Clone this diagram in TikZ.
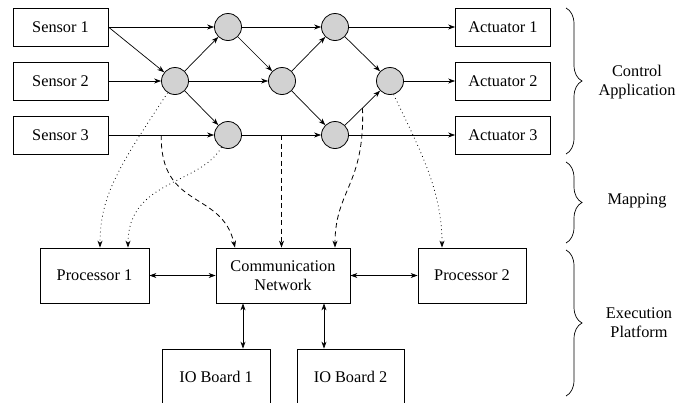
\documentclass[tikz,border=0pt]{standalone}
\usepackage{fontspec}
\setmainfont{Liberation Serif}
\usetikzlibrary{arrows.meta,decorations.pathreplacing}
\begin{document}
\begin{tikzpicture}[x=1pt,y=-1pt,
  font=\fontsize{16.3}{19}\selectfont,
  box/.style={draw, line width=0.8pt, minimum width=95pt, minimum height=38pt, inner sep=0pt},
  platbox/.style={draw, line width=0.8pt, minimum height=55pt, inner sep=0pt},
  task/.style={circle, draw, line width=0.8pt, fill=gray!35, minimum size=27pt, inner sep=0pt},
  tip/.tip={Stealth[length=7pt,width=5pt]},
  arr/.style={-tip, line width=0.7pt},
  bidir/.style={tip-tip, line width=0.7pt},
  mapdot/.style={-tip, line width=0.8pt, dash pattern=on 0.8pt off 3.2pt},
  mapdash/.style={-tip, line width=0.8pt, dash pattern=on 5pt off 3.5pt},
  bracestyle/.style={decorate, decoration={brace, amplitude=16pt}, line width=0.7pt}
]
\useasboundingbox (0,0) rectangle (700,402);

% sensors and actuators
\node[box] (S1) at (60.5,27) {Sensor 1};
\node[box] (S2) at (60.5,81) {Sensor 2};
\node[box] (S3) at (60.5,135) {Sensor 3};
\node[box] (Ac1) at (503,27) {Actuator 1};
\node[box] (Ac2) at (503,81) {Actuator 2};
\node[box] (Ac3) at (503,135) {Actuator 3};

% tasks
\node[task] (A) at (175,81) {};
\node[task] (B) at (228,27) {};
\node[task] (C) at (228,135) {};
\node[task] (D) at (282,81) {};
\node[task] (E) at (335,27) {};
\node[task] (F) at (335,135) {};
\node[task] (G) at (390,81) {};

% platform
\node[platbox, minimum width=109pt] (P1) at (94.5,275.5) {Processor 1};
\node[platbox, minimum width=134pt, align=center] (CN) at (283,275.5) {Communication\\Network};
\node[platbox, minimum width=108pt] (P2) at (472,275.5) {Processor 2};
\node[draw, line width=0.8pt, minimum width=108pt, minimum height=62pt, inner sep=0pt] (IO1) at (216,380) {};
\node[draw, line width=0.8pt, minimum width=107pt, minimum height=62pt, inner sep=0pt] (IO2) at (350.5,380) {};
\node (IO1t) at (216,377) {IO Board 1};
\node (IO2t) at (350.5,377) {IO Board 2};

% application edges
\draw[arr] (S1.east) -- (B);
\draw[arr] (S1.east) -- (A);
\draw[arr] (S2) -- (A);
\draw[arr] (S3) -- coordinate[pos=0.5] (m1) (C);
\draw[arr] (A) -- (B);
\draw[arr] (A) -- (D);
\draw[arr] (A) -- (C);
\draw[arr] (B) -- (E);
\draw[arr] (B) -- (D);
\draw[arr] (D) -- (E);
\draw[arr] (D) -- (F);
\draw[arr] (C) -- coordinate[pos=0.5] (m2) (F);
\draw[arr] (E) -- (Ac1);
\draw[arr] (E) -- (G);
\draw[arr] (F) -- coordinate[pos=0.5] (m3) (G);
\draw[arr] (F) -- (Ac3);
\draw[arr] (G) -- (Ac2);

% platform connections
\draw[bidir] (P1) -- (CN);
\draw[bidir] (CN) -- (P2);
\draw[bidir] ([xshift=-40pt]CN.south) -- ([xshift=-40pt]CN.south |- IO1.north);
\draw[bidir] ([xshift=41pt]CN.south) -- ([xshift=41pt]CN.south |- IO2.north);

% mapping: tasks to processors
\draw[mapdot] (A.238) .. controls (120,165) and (100,195) .. ([xshift=5.5pt]P1.north);
\draw[mapdot] (C.242) .. controls (200,185) and (128,180) .. ([xshift=33.5pt]P1.north);
\draw[mapdot] (G.285) .. controls (420,150) and (442,190) .. ([xshift=-30pt]P2.north);

% mapping: messages to network
\draw[mapdash] (m1) .. controls (160,210) and (222,190) .. ([xshift=-48pt]CN.north);
\draw[mapdash] (m2) -- (m2 |- CN.north);
\draw[mapdash] (m3) .. controls (365,185) and (335,190) .. ([xshift=52pt]CN.north);

% braces and labels
\draw[bracestyle] (566,8) -- (566,154);
\draw[bracestyle] (566,162) -- (566,243);
\draw[bracestyle] (566,250) -- (566,396);
\node[align=center] (ca) at (637,82) {Control\\Application};
\node (mp) at (637,201) {Mapping};
\node[align=center] (ep) at (639,323) {Execution\\Platform};
\end{tikzpicture}
\end{document}
